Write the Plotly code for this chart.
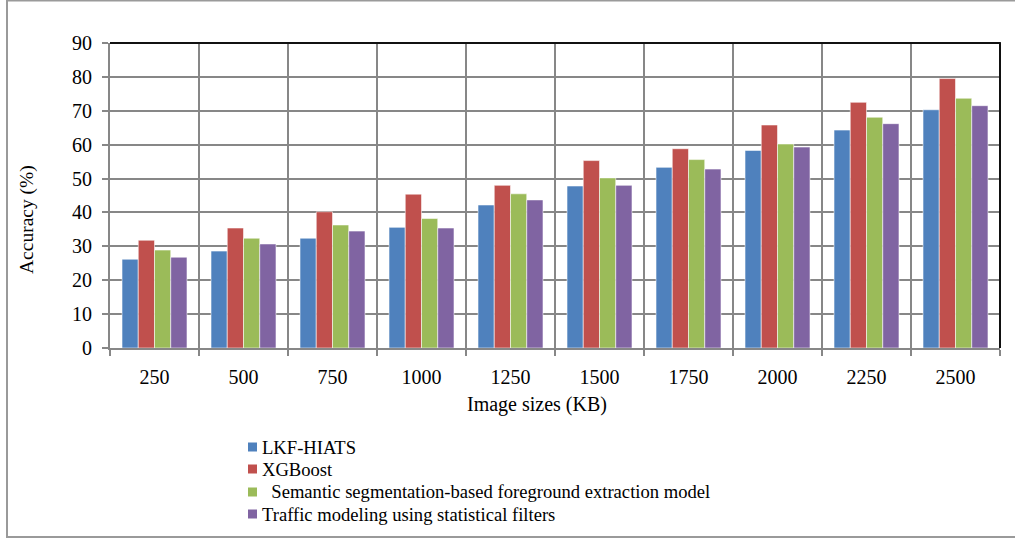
import plotly.graph_objects as go

# Image sizes on the x axis (KB)
image_sizes = ["250", "500", "750", "1000", "1250", "1500", "1750", "2000", "2250", "2500"]

# Accuracy (%) per method
lkf_hiats = [26.2, 28.6, 32.4, 35.6, 42.2, 47.8, 53.3, 58.3, 64.3, 70.3]
xgboost = [31.8, 35.4, 40.2, 45.4, 48.0, 55.3, 58.8, 65.8, 72.5, 79.5]
semantic_seg = [28.9, 32.4, 36.3, 38.2, 45.5, 50.2, 55.6, 60.2, 68.1, 73.7]
traffic_filters = [26.8, 30.7, 34.5, 35.4, 43.7, 48.0, 52.8, 59.3, 66.2, 71.5]

series_names = [
    "LKF-HIATS",
    "XGBoost",
    "\u00a0\u00a0Semantic segmentation-based foreground extraction model",
    "Traffic modeling using statistical filters",
]
series_values = [lkf_hiats, xgboost, semantic_seg, traffic_filters]
series_colors = ["#4F81BD", "#C0504D", "#9BBB59", "#8064A2"]

W, H = 1015, 539
L, R, T, B = 110, 1000, 43, 348  # plot area in pixels
FONT = "Liberation Serif, Times New Roman, serif"
GRID = "#878787"


def px_x(x):
    return (x - L) / (R - L)


def px_y(y):
    return (B - y) / (B - T)


fig = go.Figure()
for name, vals, col in zip(series_names, series_values, series_colors):
    fig.add_trace(go.Bar(
        x=image_sizes, y=vals, name=name,
        marker=dict(color=col, line=dict(color="rgba(255,255,255,0.55)", width=1)),
        showlegend=False,
    ))

shapes = []
annotations = []

# outer chart frame
shapes.append(dict(type="rect", xref="paper", yref="paper",
                   x0=px_x(7), x1=px_x(1020), y0=px_y(537), y1=px_y(0.5),
                   line=dict(color="#9a9a9a", width=2), fillcolor="rgba(0,0,0,0)", layer="below"))
# black top and right borders of the plot area
shapes.append(dict(type="line", xref="paper", yref="paper", x0=0, x1=1.001, y0=1, y1=1,
                   line=dict(color="#111111", width=2)))
shapes.append(dict(type="line", xref="paper", yref="paper", x0=1, x1=1, y0=0, y1=1,
                   line=dict(color="#111111", width=2)))

# legend drawn as swatches + labels
leg_rows = [447, 469, 492, 514]
for name, col, yrow in zip(series_names, series_colors, leg_rows):
    shapes.append(dict(type="rect", xref="paper", yref="paper",
                       x0=px_x(248), x1=px_x(257), y0=px_y(yrow + 4.5), y1=px_y(yrow - 4.5),
                       fillcolor=col, line=dict(width=0)))
    annotations.append(dict(text=name, xref="paper", yref="paper",
                            x=px_x(260), y=px_y(yrow), xanchor="left", yanchor="middle",
                            showarrow=False, font=dict(family=FONT, size=18.6, color="black")))

# y axis title
annotations.append(dict(text="Accuracy (%)", xref="paper", yref="paper",
                        x=px_x(27), y=px_y(220), textangle=-90,
                        xanchor="center", yanchor="middle", showarrow=False,
                        font=dict(family=FONT, size=19.5, color="black")))

# x axis title
annotations.append(dict(text="Image sizes (KB)", xref="paper", yref="paper",
                        x=px_x(537), y=px_y(405), xanchor="center", yanchor="middle",
                        showarrow=False, font=dict(family=FONT, size=20, color="black")))

fig.update_layout(
    width=W, height=H,
    margin=dict(l=L, r=W - R, t=T, b=H - B, pad=0),
    paper_bgcolor="white", plot_bgcolor="white",
    barmode="group", bargap=0.27, bargroupgap=0,
    font=dict(family=FONT, size=19, color="black"),
    shapes=shapes, annotations=annotations,
    xaxis=dict(
        type="category", tickson="boundaries",
        showgrid=True, gridcolor=GRID, gridwidth=2,
        showline=True, linecolor=GRID, linewidth=2,
        ticks="outside", ticklen=6, tickcolor=GRID, tickwidth=2,
        tickfont=dict(family=FONT, size=20, color="black"),
        ticklabelstandoff=10,
    ),
    yaxis=dict(
        range=[0, 90], dtick=10,
        showgrid=True, gridcolor=GRID, gridwidth=2,
        showline=True, linecolor=GRID, linewidth=2,
        ticks="outside", ticklen=6, tickcolor=GRID, tickwidth=2,
        tickfont=dict(family=FONT, size=20, color="black"),
        ticklabelstandoff=6,
        zeroline=False,
    ),
)

fig.write_html("out.html")
